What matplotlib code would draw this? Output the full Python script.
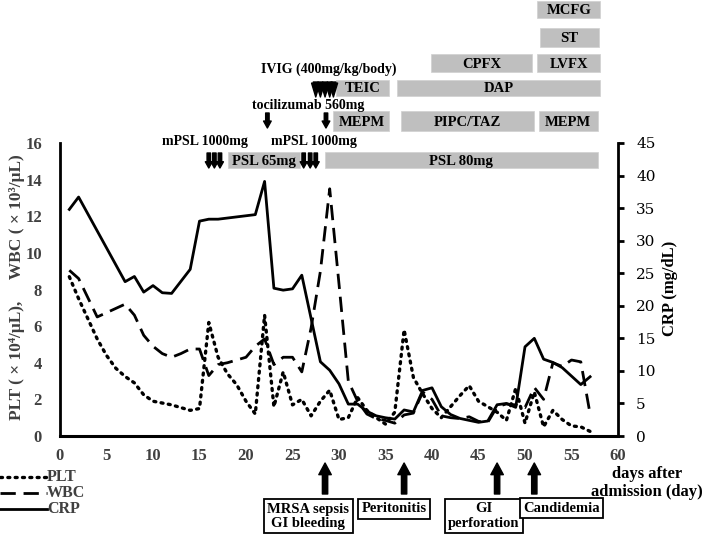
import matplotlib
matplotlib.use('Agg')
import matplotlib.pyplot as plt
import matplotlib.transforms as mtransforms
from matplotlib.patches import Rectangle
from matplotlib.lines import Line2D

W, H = 708, 535
plt.rcParams['font.family'] = ['Liberation Serif', 'DejaVu Serif']

# ---------------- data ----------------
plt_days = list(range(1, 58))
plt_vals = [8.7, 7.5, 6.4, 5.3, 4.4, 3.7, 3.25, 2.9, 2.25, 1.9, 1.8, 1.7, 1.55, 1.4, 1.5,
            6.2, 4.3, 3.4, 2.8, 1.9, 1.2, 6.6, 1.6, 3.5, 1.7, 2.0, 1.1, 1.9, 2.5, 0.9,
            1.0, 2.1, 1.4, 1.0, 0.65, 1.3, 5.8, 3.2, 2.3, 1.5, 1.0, 1.6, 2.2, 2.75, 1.9,
            1.6, 1.3, 0.85, 2.6, 0.7, 2.4, 0.5, 1.4, 0.9, 0.55, 0.5, 0.25]

wbc_days = [1, 2, 4, 7, 8, 9, 10, 11, 12, 13, 14, 15,
            16, 17, 18, 20, 21, 22, 23, 24, 25, 26,
            27, 28, 29, 30, 31, 32, 33, 34, 35, 36,
            37, 38, 39, 40, 41, 42, 43, 44, 45, 46,
            47, 48, 49, 50, 51, 52, 53, 54, 55, 56, 57]
wbc_vals = [9.05, 8.6, 6.5, 7.2, 6.6, 5.5, 4.9, 4.5, 4.3, 4.5, 4.75, 4.75,
            3.3, 3.9, 4.0, 4.3, 4.9, 5.3, 3.9, 4.3, 4.3, 3.5,
            5.9, 9.0, 13.5, 8.3, 3.0, 1.9, 1.2, 0.95, 0.85, 0.7,
            1.15, 1.25, 2.4, 2.0, 1.1, 1.0, 0.95, 1.05, 0.8, 0.75,
            1.6, 1.75, 1.7, 1.55, 2.65, 2.0, 4.0, 3.8, 4.15, 4.05, 1.2]

crp_days = [1, 2, 7, 8, 9, 10, 11, 12, 14, 15, 16, 17,
            21, 22, 23, 24, 25, 26,
            28, 29, 30, 31, 32, 33, 34, 35, 36, 37, 38, 39, 40, 41, 42,
            43, 44, 45, 46, 47, 48, 49, 50, 51, 52, 53, 54, 55, 56, 57]
crp_vals = [34.8, 36.7, 23.7, 24.5, 22.1, 23.1, 22.0, 21.9, 25.6, 33.0, 33.3, 33.3,
            34.0, 39.1, 22.7, 22.4, 22.6, 24.7,
            11.4, 10.1, 8.0, 4.9, 4.9, 3.8, 3.1, 2.8, 2.6, 4.0, 3.7, 7.0, 7.4, 4.5, 3.3,
            2.7, 2.4, 2.1, 2.3, 4.8, 5.0, 4.4, 13.7, 15.0, 11.8, 11.3, 10.5, 9.2, 7.9, 9.1]

x_ticks = list(range(0, 61, 5))
left_ticks = list(range(0, 17, 2))
right_ticks = list(range(0, 46, 5))

# treatments (gray bars), in days
tx_labels = ['MCFG', 'ST', 'CPFX', 'LVFX', 'TEIC', 'DAP', 'MEPM', 'PIPC/TAZ', 'MEPM',
             'PSL 65mg', 'PSL 80mg']
tx_start = [51.3, 51.6, 39.9, 51.3, 29.7, 36.2, 29.4, 36.7, 51.5, 18.1, 28.5]
tx_end = [58.1, 58.0, 50.8, 58.1, 35.4, 58.1, 35.4, 51.0, 57.8, 25.8, 57.8]
tx_row = [0, 1, 2, 2, 3, 3, 4, 4, 4, 5, 5]

mpsl_days = [16.0, 16.6, 17.2, 26.2, 26.9, 27.5]
toci_days = [22.3, 28.6]
ivig_days = [27.5, 28.0, 28.5, 29.0, 29.4]

event_days = [28.5, 37, 47, 51]
event_labels = ['MRSA sepsis\nGI bleeding', 'Peritonitis', 'GI\nperforation', 'Candidemia']
event_box_days = [26.7, 35.9, 45.6, 53.9]

# ---------------- figure ----------------
fig = plt.figure(figsize=(W / 100, H / 100), dpi=100)
ax = fig.add_axes([60 / W, 1 - 436 / H, 558 / W, 293 / H])
ax2 = ax.twinx()
ax.set_xlim(0, 60)
ax.set_ylim(0, 16)
ax2.set_ylim(0, 45)

ax.plot(plt_days, plt_vals, color='black', lw=2.4, linestyle=(0, (0.6, 1.6)),
        dash_capstyle='round', solid_capstyle='round')
ax.plot(wbc_days, wbc_vals, color='black', lw=2.0, linestyle=(0, (5.5, 2.8)))
ax2.plot(crp_days, crp_vals, color='black', lw=2.0)

for s in ['top', 'right']:
    ax.spines[s].set_visible(False)
for s in ['top', 'left', 'bottom']:
    ax2.spines[s].set_visible(False)
ax.spines['left'].set_linewidth(2)
ax.spines['bottom'].set_linewidth(2.2)
ax2.spines['right'].set_linewidth(2)

gray_txt = '#404040'
ax.set_xticks(x_ticks)
ax.set_xticklabels([str(t) for t in x_ticks], fontsize=12, fontweight='bold', color=gray_txt)
ax.set_yticks(left_ticks)
ax.set_yticklabels([str(t) for t in left_ticks], fontsize=12, fontweight='bold', color=gray_txt)
ax.tick_params(axis='x', length=0, pad=9)
ax.tick_params(axis='y', length=0, pad=13)
ax2.set_yticks(right_ticks)
ax2.set_yticklabels([str(t) for t in right_ticks], fontsize=11, family='DejaVu Serif')
ax2.tick_params(axis='y', length=4, width=2, pad=9, direction='out')

def fy(py):
    return 1 - py / H

def fx(px):
    return px / W

fig.text(fx(17), fy(287), 'PLT ( \u00d7 10\u2074/\u03bcL),     WBC ( \u00d7 10\u00b3/\u03bcL)',
         rotation=90, ha='center', va='center', fontsize=12.5, fontweight='bold', color=gray_txt)
fig.text(fx(670), fy(288), 'CRP (mg/dL)', rotation=90, ha='center', va='center',
         fontsize=12, fontweight='bold')
fig.text(fx(647), fy(483), 'days after\nadmission (day)', ha='center', va='center',
         fontsize=12, fontweight='bold', linespacing=1.25)

# legend
leg_y = [477, 493, 509]
styles = [dict(lw=2.4, linestyle=(0, (0.6, 1.6)), dash_capstyle='round'),
          dict(lw=2.0, linestyle=(0, (5.5, 2.8))),
          dict(lw=2.0)]
for yy, lab, st in zip(leg_y, ['PLT', 'WBC', 'CRP'], styles):
    fig.add_artist(Line2D([fx(0), fx(47)], [fy(yy), fy(yy)], color='black', **st))
    fig.text(fx(47), fy(yy), lab, ha='left', va='center', fontsize=11.5,
             fontweight='bold', color=gray_txt)

# treatment bars
blend = mtransforms.blended_transform_factory(ax.transData, fig.transFigure)
rows = [(1, 18), (28, 47), (54, 72), (80, 96), (111, 131), (152, 168)]
for lab, s0, s1, r in zip(tx_labels, tx_start, tx_end, tx_row):
    top, bot = rows[r]
    fig.add_artist(Rectangle((s0, fy(bot)), s1 - s0, (bot - top) / H, transform=blend,
                             facecolor='#bfbfbf', edgecolor='#d0d0d0', lw=0.5))
    fig.text((s0 + s1) / 2, fy((top + bot) / 2 + 1), lab, transform=blend, ha='center',
             va='center', fontsize=10.5, fontweight='bold')

# text annotations
fig.text(fx(329), fy(69), 'IVIG (400mg/kg/body)', ha='center', va='center',
         fontsize=10, fontweight='bold')
fig.text(fx(308), fy(106), 'tocilizumab 560mg', ha='center', va='center',
         fontsize=10, fontweight='bold')
fig.text(fx(205), fy(141), 'mPSL 1000mg', ha='center', va='center', fontsize=10, fontweight='bold')
fig.text(fx(314), fy(141), 'mPSL 1000mg', ha='center', va='center', fontsize=10, fontweight='bold')

def down_arrow(day, ytop, ybot, hw, tw, hl, ms):
    fig.add_artist(matplotlib.patches.FancyArrowPatch(
        (day, fy(ytop)), (day, fy(ybot)), transform=blend,
        arrowstyle=f'simple,head_length={hl},head_width={hw},tail_width={tw}',
        mutation_scale=ms, color='black', shrinkA=0, shrinkB=0))

for d in mpsl_days:
    down_arrow(d, 153, 168, 0.5, 0.25, 0.45, 10)
for d in toci_days:
    down_arrow(d, 113, 128, 0.55, 0.25, 0.5, 10)
for d in ivig_days:
    down_arrow(d, 82, 97, 0.6, 0.35, 1.0, 10)

# events
for d in event_days:
    fig.add_artist(matplotlib.patches.FancyArrowPatch(
        (d, fy(494)), (d, fy(463)), transform=blend,
        arrowstyle='simple,head_length=0.7,head_width=0.75,tail_width=0.32',
        mutation_scale=12, color='black', shrinkA=0, shrinkB=0))

ev_y = [516, 509, 516, 508]
for d, lab, yy in zip(event_box_days, event_labels, ev_y):
    fig.text(d, fy(yy), lab, transform=blend, ha='center', va='center', fontsize=10.5,
             fontweight='bold', linespacing=1.1,
             bbox=dict(boxstyle='square,pad=0.22', fc='white', ec='black', lw=1.3))

fig.savefig('out.png', dpi=100)
